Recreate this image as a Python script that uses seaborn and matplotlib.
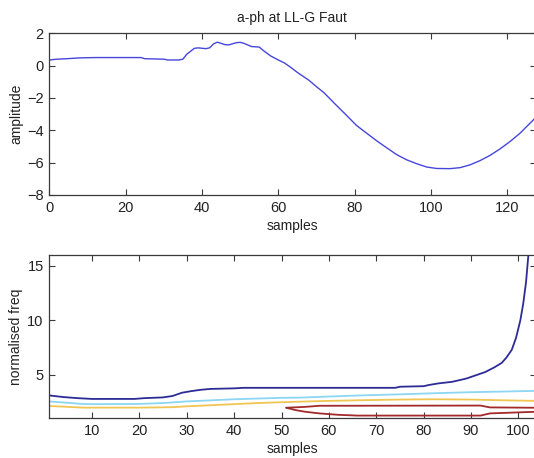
import matplotlib
matplotlib.use("Agg")
import matplotlib.pyplot as plt
import seaborn as sns
import pandas as pd

# ---- data ----
amp_x = [0, 2, 4, 8, 12, 20, 24, 25, 30, 31, 34, 35, 36, 38, 39, 41, 42, 43, 44, 45, 46, 47,
         48, 49, 50, 51, 52, 53, 55, 56, 58, 60, 61.5, 63, 65, 68, 70, 72, 75, 78,
         80.5, 83, 85.8, 88.4, 91, 93.6, 96.2, 98.9, 101.5, 105, 107.6, 110.2, 112.8,
         115.5, 118.1, 120.7, 123.3, 125.5, 127.5]
amp_y = [0.35, 0.4, 0.42, 0.48, 0.5, 0.5, 0.5, 0.43, 0.4, 0.35, 0.35, 0.4, 0.7, 1.07, 1.1,
         1.05, 1.1, 1.34, 1.45, 1.38, 1.3, 1.28, 1.35, 1.42, 1.44, 1.38, 1.28, 1.18, 1.15,
         0.95, 0.6, 0.35, 0.18, -0.06, -0.42, -0.9, -1.3, -1.68, -2.4, -3.1, -3.7, -4.15,
         -4.65, -5.08, -5.5, -5.82, -6.06, -6.27, -6.36, -6.37, -6.31, -6.14, -5.88, -5.55,
         -5.15, -4.7, -4.19, -3.67, -3.2]

blue_x = [1, 2, 4, 7, 10, 19, 21, 25, 27, 29, 31, 33, 35, 40, 42, 50, 74, 75, 80, 81, 83, 86,
          89, 91, 93, 95, 96.5, 97.5, 98.6, 99.5, 100.4, 101, 101.6, 102.2]
blue_y = [3.1, 3.05, 2.95, 2.85, 2.78, 2.78, 2.85, 2.92, 3.05, 3.35, 3.5, 3.62, 3.7, 3.75,
          3.8, 3.8, 3.8, 3.9, 3.95, 4.05, 4.2, 4.35, 4.65, 4.95, 5.25, 5.7, 6.1, 6.6, 7.3,
          8.4, 10.0, 11.5, 13.5, 16.5]

cyan_x = [1, 4, 8, 10, 20, 25, 30, 40, 50, 54, 60, 68, 75, 82, 90, 96, 103.6]
cyan_y = [2.55, 2.45, 2.32, 2.3, 2.32, 2.4, 2.55, 2.75, 2.88, 2.9, 3.0, 3.12, 3.2, 3.3, 3.4,
          3.45, 3.52]

yellow_x = [1, 5, 8, 20, 27, 30, 35, 40, 45, 50, 54, 60, 68, 75, 82, 90, 96, 103.6]
yellow_y = [2.13, 2.05, 1.98, 1.98, 2.02, 2.1, 2.2, 2.3, 2.4, 2.48, 2.53, 2.6, 2.67, 2.72,
            2.75, 2.72, 2.66, 2.6]

red_up_x = [51, 55, 58, 92, 94, 103.6]
red_up_y = [1.97, 2.05, 2.15, 2.17, 2.0, 1.97]

red_lo_x = [51, 53, 55, 58, 62, 66, 92, 94, 103.6]
red_lo_y = [1.97, 1.75, 1.6, 1.45, 1.32, 1.25, 1.25, 1.45, 1.6]

top_xticks = [0, 20, 40, 60, 80, 100, 120]
top_yticks = [-8, -6, -4, -2, 0, 2]
bot_xticks = [10, 20, 30, 40, 50, 60, 70, 80, 90, 100]
bot_yticks = [5, 10, 15]

# ---- style ----
sns.set_style("white")
plt.rcParams["font.family"] = ["Liberation Sans", "DejaVu Sans"]
plt.rcParams["axes.edgecolor"] = "#3a3a3a"
plt.rcParams["axes.linewidth"] = 0.9

fig = plt.figure(figsize=(5.34, 4.58), dpi=100, facecolor="white")
W, H = 534, 458

def place(l, t, r, b):
    return [l / W, 1 - b / H, (r - l) / W, (b - t) / H]

ax1 = fig.add_axes(place(49.3, 33.3, 535.5, 195))
ax2 = fig.add_axes(place(49.3, 255, 535.5, 418.3))

df_top = pd.DataFrame({"x": amp_x, "y": amp_y})
sns.lineplot(data=df_top, x="x", y="y", ax=ax1, color="#4646dc", linewidth=1.0,
             sort=False, estimator=None)

series = [
    (blue_x, blue_y, "#2c2c96"),
    (cyan_x, cyan_y, "#8cd6f2"),
    (yellow_x, yellow_y, "#f0c552"),
    (red_up_x, red_up_y, "#a32a2a"),
    (red_lo_x, red_lo_y, "#a32a2a"),
]
for xs, ys, c in series:
    d = pd.DataFrame({"x": xs, "y": ys})
    sns.lineplot(data=d, x="x", y="y", ax=ax2, color=c, linewidth=1.3,
                 sort=False, estimator=None)

ax1.set_xlim(0, 127.4)
ax1.set_ylim(-8, 2)
ax1.set_xticks(top_xticks)
ax1.set_yticks(top_yticks)
ax1.set_title("a-ph at LL-G Faut", fontsize=10, pad=8, color="#222222")
ax1.set_xlabel("samples", fontsize=10, labelpad=3, color="#222222")
ax1.set_ylabel("amplitude", fontsize=10, labelpad=3, color="#222222")

ax2.set_xlim(1, 103.6)
ax2.set_ylim(1, 16)
ax2.set_xticks(bot_xticks)
ax2.set_yticks(bot_yticks)
ax2.set_xlabel("samples", fontsize=10, labelpad=3, color="#222222")
ax2.set_ylabel("normalised freq", fontsize=10, labelpad=3, color="#222222")

for ax in (ax1, ax2):
    ax.tick_params(direction="in", length=4, width=0.8, top=True, right=True,
                   bottom=True, left=True,
                   labelsize=10.5, pad=4, colors="#3a3a3a", labelcolor="#222222")
    for s in ax.spines.values():
        s.set_visible(True)
    ax.set_facecolor("white")

fig.savefig("out.png", dpi=100, facecolor="white")
